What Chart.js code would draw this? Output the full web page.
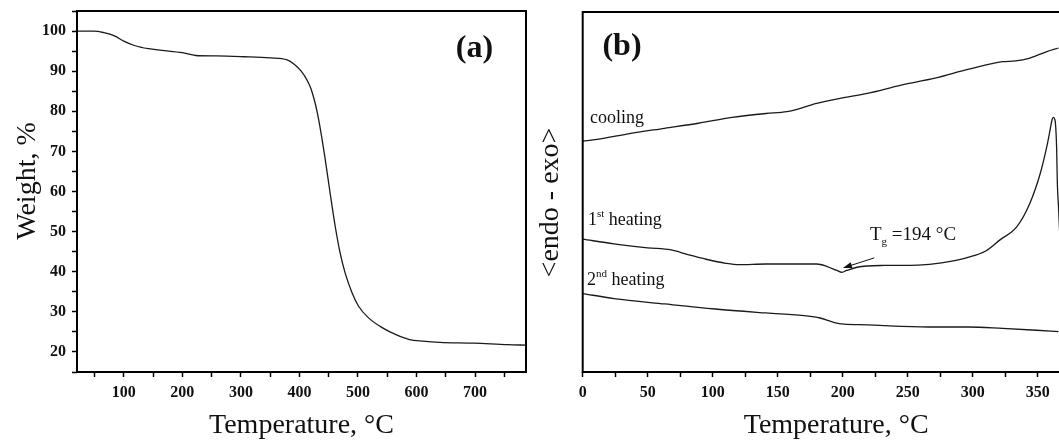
<!DOCTYPE html>
<html><head><meta charset="utf-8">
<script src="https://cdn.jsdelivr.net/npm/chart.js@4.4.1/dist/chart.umd.min.js"></script>
<style>
html,body{margin:0;padding:0;background:#fff;overflow:hidden;width:1059px;height:442px;}
#wrap{position:relative;width:1059px;height:442px;overflow:hidden;background:#fff;}
#c1{position:absolute;left:0;top:0;}
#c2{position:absolute;left:530px;top:0;}
</style></head><body>
<div id="wrap"><canvas id="c1" width="530" height="442"></canvas><canvas id="c2" width="562" height="442"></canvas></div>
<script>
// ---- Panel (a): TGA ----
const tgaTemp   = [20, 49, 66, 84, 100, 118, 142, 165, 200, 223, 258, 304, 350, 379, 391, 403, 414, 420, 426, 430, 434, 443, 452, 461, 469, 478, 490, 501, 518, 542, 565, 588, 611, 640, 698, 756, 787];
const tgaWeight = [100, 100, 99.6, 98.8, 97.5, 96.4, 95.6, 95.2, 94.6, 93.9, 93.8, 93.6, 93.3, 92.8, 91.7, 90.0, 87.5, 85.5, 82.5, 80, 77, 69, 60, 51.4, 45, 39.7, 34.7, 31.4, 28.5, 26.0, 24.3, 23.1, 22.7, 22.4, 22.2, 21.8, 21.7];
const tgaXLabels = [100, 200, 300, 400, 500, 600, 700];
const tgaYLabels = [20, 30, 40, 50, 60, 70, 80, 90, 100];

// ---- Panel (b): DSC ----
const coolT = [0, 11, 37, 63, 89, 115, 141, 157, 180, 198, 219, 245, 271, 297, 323, 333, 344, 357, 366];
const coolV = [64.1, 64.6, 66.3, 67.7, 69.1, 70.7, 71.8, 72.3, 74.6, 76.0, 77.4, 79.7, 81.6, 84.1, 86.2, 86.4, 87.2, 89.0, 90.0];
const heat1T = [0, 24, 50, 68, 81, 94, 110, 120, 141, 180, 188, 195.5, 199.4, 203, 211, 232, 258, 276, 297, 310, 321, 334, 344, 352, 357, 359.5, 361, 362, 363.3, 364.6, 365.1, 366, 367];
const heat1V = [36.9, 35.6, 34.5, 33.9, 32.6, 31.4, 30.2, 29.8, 30.0, 30.0, 29.3, 28.2, 27.7, 28.2, 29.1, 29.6, 29.7, 30.3, 31.9, 33.6, 36.7, 40.4, 46.9, 55.2, 62.6, 67.2, 70, 70.75, 70, 61.7, 52.5, 45.9, 38];
const heat2T = [0, 24, 63, 102, 141, 172, 182.5, 193, 201, 219, 245, 271, 297, 323, 349, 366];
const heat2V = [21.8, 20.4, 18.9, 17.5, 16.4, 15.6, 15.0, 13.8, 13.3, 13.1, 12.7, 12.5, 12.5, 12.1, 11.6, 11.2];
const dscXLabels = [0, 50, 100, 150, 200, 250, 300, 350];
const tgValue = 194;

const toXY = (xs, ys) => xs.map((x, i) => ({x, y: ys[i]}));

const SERIF = '"Liberation Serif", "Times New Roman", serif';
const TICKFONT = {family: SERIF, size: 16, weight: 'bold'};
const TITLEFONT = {family: SERIF, size: 28, weight: 'normal'};
const INK = '#111';

const framePlugin = {
  id: 'frame',
  afterDraw(chart) {
    const {ctx, chartArea: a} = chart;
    ctx.save();
    ctx.strokeStyle = '#000';
    ctx.lineWidth = 2;
    ctx.strokeRect(a.left, a.top, a.right - a.left, a.bottom - a.top);
    ctx.restore();
  }
};

const textPlugin = {
  id: 'texts',
  afterDraw(chart, args, opts) {
    const {ctx, scales: {x, y}} = chart;
    ctx.save();
    ctx.fillStyle = INK;
    ctx.textAlign = 'left';
    ctx.textBaseline = 'alphabetic';
    for (const item of (opts.items || [])) {
      let px = x.getPixelForValue(item.x);
      const py = y.getPixelForValue(item.y);
      for (const r of item.runs) {
        ctx.font = r.font;
        ctx.fillText(r.text, px + (r.dx || 0), py + (r.rise || 0));
        px += ctx.measureText(r.text).width + (r.dx || 0);
      }
    }
    for (const ar of (opts.arrows || [])) {
      const x0 = x.getPixelForValue(ar.from[0]), y0 = y.getPixelForValue(ar.from[1]);
      const x1 = x.getPixelForValue(ar.to[0]), y1 = y.getPixelForValue(ar.to[1]);
      const ang = Math.atan2(y1 - y0, x1 - x0);
      ctx.strokeStyle = INK; ctx.lineWidth = 1;
      ctx.beginPath(); ctx.moveTo(x0, y0); ctx.lineTo(x1 - 6 * Math.cos(ang), y1 - 6 * Math.sin(ang)); ctx.stroke();
      ctx.beginPath();
      ctx.moveTo(x1, y1);
      ctx.lineTo(x1 - 9 * Math.cos(ang) + 3 * Math.sin(ang), y1 - 9 * Math.sin(ang) - 3 * Math.cos(ang));
      ctx.lineTo(x1 - 9 * Math.cos(ang) - 3 * Math.sin(ang), y1 - 9 * Math.sin(ang) + 3 * Math.cos(ang));
      ctx.closePath(); ctx.fill();
    }
    ctx.restore();
  }
};

const tickGrid = {display: true, drawOnChartArea: false, drawTicks: true, tickLength: 5, tickWidth: 1.5, tickColor: '#000'};
const lineStyle = {borderColor: '#1a1a1a', borderWidth: 1.3, pointRadius: 0, cubicInterpolationMode: 'monotone', fill: false};

function fixX(h) { return s => { s.height = h; s.paddingLeft = 0; s.paddingRight = 0; }; }
function fixY(w) { return s => { s.width = w; s.paddingTop = 0; s.paddingBottom = 0; }; }

const f = (w, px) => `${w} ${px}px ${SERIF}`;

new Chart(document.getElementById('c1'), {
  type: 'line',
  data: {datasets: [{label: 'TGA', data: toXY(tgaTemp, tgaWeight), ...lineStyle}]},
  options: {
    responsive: false, animation: false,
    layout: {padding: {left: 0, right: 4, top: 11, bottom: 0}},
    plugins: {
      legend: {display: false}, tooltip: {enabled: false},
      texts: {items: [{x: 667, y: 93.5, runs: [{text: '(a)', font: f('bold', 32)}]}]}
    },
    scales: {
      x: {
        type: 'linear', min: 20, max: 787, afterFit: fixX(70),
        ticks: {stepSize: 50, includeBounds: false, autoSkip: false, maxRotation: 0, padding: 6, color: INK, font: TICKFONT,
          callback: v => tgaXLabels.includes(v) ? String(v) : ''},
        grid: tickGrid, border: {display: false},
        title: {display: true, text: 'Temperature, °C', color: INK, font: TITLEFONT, padding: {top: 0, bottom: 0}}
      },
      y: {
        type: 'linear', min: 15, max: 105, afterFit: fixY(77),
        ticks: {stepSize: 5, includeBounds: false, autoSkip: false, padding: 6, color: INK, font: TICKFONT,
          callback: v => tgaYLabels.includes(v) ? String(v) : ''},
        grid: tickGrid, border: {display: false},
        title: {display: true, text: '   Weight, %', color: INK, font: TITLEFONT, padding: {top: 11, bottom: 0}}
      }
    }
  },
  plugins: [framePlugin, textPlugin]
});

new Chart(document.getElementById('c2'), {
  type: 'line',
  data: {datasets: [
    {label: 'cooling', data: toXY(coolT, coolV), ...lineStyle},
    {label: '1st heating', data: toXY(heat1T, heat1V), ...lineStyle},
    {label: '2nd heating', data: toXY(heat2T, heat2V), ...lineStyle}
  ]},
  options: {
    responsive: false, animation: false,
    layout: {padding: {left: 0, right: 2.3, top: 12, bottom: 0}},
    plugins: {
      legend: {display: false}, tooltip: {enabled: false},
      texts: {
        items: [
          {x: 15.2, y: 88.1, runs: [{text: '(b)', font: f('bold', 32)}]},
          {x: 5.6, y: 69.3, runs: [{text: 'cooling', font: f('normal', 18)}]},
          {x: 4.1, y: 40.8, runs: [{text: '1', font: f('normal', 18)}, {text: 'st', font: f('normal', 11), rise: -8}, {text: ' heating', font: f('normal', 18)}]},
          {x: 3.3, y: 24.2, runs: [{text: '2', font: f('normal', 18)}, {text: 'nd', font: f('normal', 11), rise: -8}, {text: ' heating', font: f('normal', 18)}]},
          {x: 221, y: 36.7, runs: [{text: 'T', font: f('normal', 19)}, {text: 'g', font: f('normal', 11), rise: 5}, {text: ' =' + tgValue + ' °C', font: f('normal', 19)}]}
        ],
        arrows: [{from: [224.3, 31.7], to: [200.2, 28.9]}]
      }
    },
    scales: {
      x: {
        type: 'linear', min: 0, max: 390, afterFit: fixX(70),
        ticks: {stepSize: 25, includeBounds: false, autoSkip: false, maxRotation: 0, padding: 6, color: INK, font: TICKFONT,
          callback: v => dscXLabels.includes(v) ? String(v) : ''},
        grid: tickGrid, border: {display: false},
        title: {display: true, text: 'Temperature, °C', color: INK, font: TITLEFONT, padding: {top: 0, bottom: 0}}
      },
      y: {
        type: 'linear', min: 0, max: 100, afterFit: fixY(52.7),
        ticks: {display: false},
        grid: {display: false}, border: {display: false},
        title: {display: true, text: '<endo - exo>   ', color: INK, font: TITLEFONT, padding: {top: 4, bottom: 0}}
      }
    }
  },
  plugins: [framePlugin, textPlugin]
});
</script>
</body></html>
